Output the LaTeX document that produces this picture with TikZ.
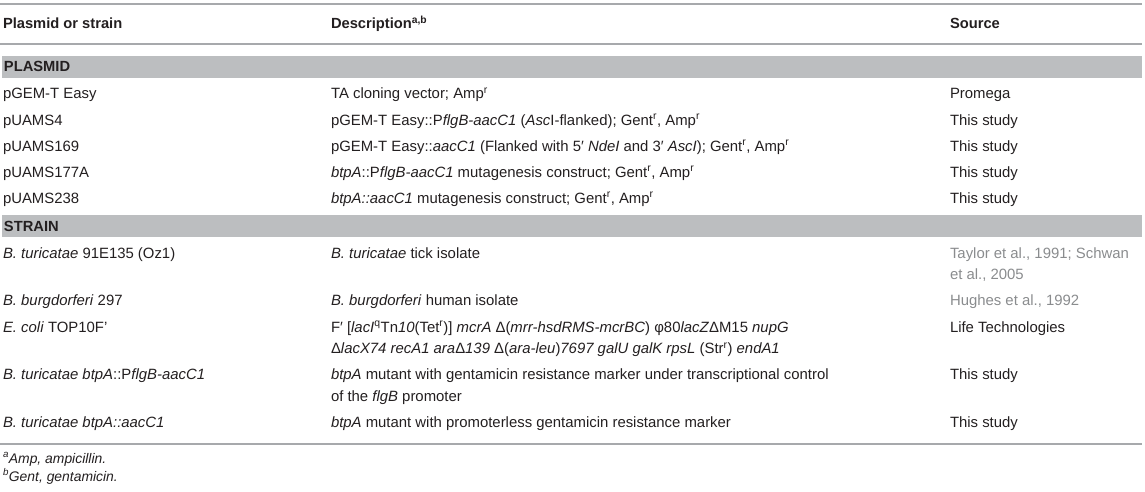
\documentclass[tikz,border=0pt]{standalone}
\usepackage{fontspec}
\setmainfont{Liberation Sans}
\definecolor{txt}{HTML}{231F20}
\definecolor{rulec}{HTML}{A7A9AC}
\definecolor{bandc}{HTML}{BCBEC0}
\definecolor{citec}{HTML}{8A8C8E}
\newcommand{\sr}[1]{\textsuperscript{#1}}
\tikzset{
  cell/.style={anchor=base west, inner sep=0pt, outer sep=0pt, text=txt, font=\fontsize{14.9}{17}\selectfont},
  headcell/.style={cell, font=\fontsize{14.7}{17}\selectfont\bfseries},
  cite/.style={cell, text=citec},
  foot/.style={cell, font=\fontsize{13.9}{16}\selectfont\itshape},
  hrule/.style={draw=rulec, line width=1.6pt},
  band/.style={fill=bandc, draw=none}
}
\begin{document}
\begin{tikzpicture}[x=1pt, y={(0pt,-1pt)}]
\useasboundingbox (0,0) rectangle (1145,492);
% rules and bands
\draw[hrule] (0,4) -- (1142,4);
\draw[hrule] (0,44) -- (1142,44);
\fill[band] (2,56) rectangle (1142,78);
\fill[band] (2,215) rectangle (1142,237);
\draw[hrule] (0,444) -- (1142,444);
% header
\node[headcell] (h1) at (3,29) {Plasmid or strain};
\node[headcell] (h2) at (331,29) {Description\sr{a,b}};
\node[headcell] (h3) at (950,29) {Source};
% PLASMID
\node[headcell] (sec1) at (4,72) {PLASMID};
\node[cell] (a1) at (3,99) {pGEM-T Easy};
\node[cell] (b1) at (331,99) {TA cloning vector; Amp\sr{r}};
\node[cell] (c1) at (950,99) {Promega};
\node[cell] (a2) at (3,125) {pUAMS4};
\node[cell] (b2) at (331,125) {pGEM-T Easy::P\textit{flgB-aacC1} (\textit{Asc}I-flanked); Gent\sr{r}, Amp\sr{r}};
\node[cell] (c2) at (950,125) {This study};
\node[cell] (a3) at (3,151) {pUAMS169};
\node[cell] (b3) at (331,151) {pGEM-T Easy::\textit{aacC1} (Flanked with 5′ \textit{NdeI} and 3′ \textit{AscI}); Gent\sr{r}, Amp\sr{r}};
\node[cell] (c3) at (950,151) {This study};
\node[cell] (a4) at (3,177) {pUAMS177A};
\node[cell] (b4) at (331,177) {\textit{btpA}::P\textit{flgB-aacC1} mutagenesis construct; Gent\sr{r}, Amp\sr{r}};
\node[cell] (c4) at (950,177) {This study};
\node[cell] (a5) at (3,203) {pUAMS238};
\node[cell] (b5) at (331,203) {\textit{btpA::aacC1} mutagenesis construct; Gent\sr{r}, Amp\sr{r}};
\node[cell] (c5) at (950,203) {This study};
% STRAIN
\node[headcell] (sec2) at (4,231) {STRAIN};
\node[cell] (a6) at (3,258) {\textit{B. turicatae} 91E135 (Oz1)};
\node[cell] (b6) at (331,258) {\textit{B. turicatae} tick isolate};
\node[cite] (c6) at (950,258) {Taylor et al., 1991; Schwan};
\node[cite] (c6b) at (950,279.5) {et al., 2005};
\node[cell] (a7) at (3,305.5) {\textit{B. burgdorferi} 297};
\node[cell] (b7) at (331,305.5) {\textit{B. burgdorferi} human isolate};
\node[cite] (c7) at (950,305.5) {Hughes et al., 1992};
\node[cell] (a8) at (3,332) {\textit{E. coli} TOP10F'};
\node[cell] (b8) at (331,332) {F′ [\textit{lacI}\sr{q}Tn\textit{10}(Tet\sr{r})] \textit{mcrA} Δ(\textit{mrr-hsdRMS-mcrBC}) φ80\textit{lacZ}ΔM15 \textit{nupG}};
\node[cell] (b8b) at (331,353.5) {Δ\textit{lacX74 recA1 ara}Δ\textit{139} Δ(\textit{ara-leu})\textit{7697 galU galK rpsL} (Str\sr{r}) \textit{endA1}};
\node[cell] (c8) at (950,332) {Life Technologies};
\node[cell] (a9) at (3,379.5) {\textit{B. turicatae btpA}::P\textit{flgB-aacC1}};
\node[cell] (b9) at (331,379.5) {\textit{btpA} mutant with gentamicin resistance marker under transcriptional control};
\node[cell] (b9b) at (331,401) {of the \textit{flgB} promoter};
\node[cell] (c9) at (950,379.5) {This study};
\node[cell] (a10) at (3,427) {\textit{B. turicatae btpA::aacC1}};
\node[cell] (b10) at (331,427) {\textit{btpA} mutant with promoterless gentamicin resistance marker};
\node[cell] (c10) at (950,427) {This study};
% footnotes
\node[foot] (fa) at (3,463) {\sr{a}Amp, ampicillin.};
\node[foot] (fb) at (3,481) {\sr{b}Gent, gentamicin.};
\end{tikzpicture}
\end{document}
